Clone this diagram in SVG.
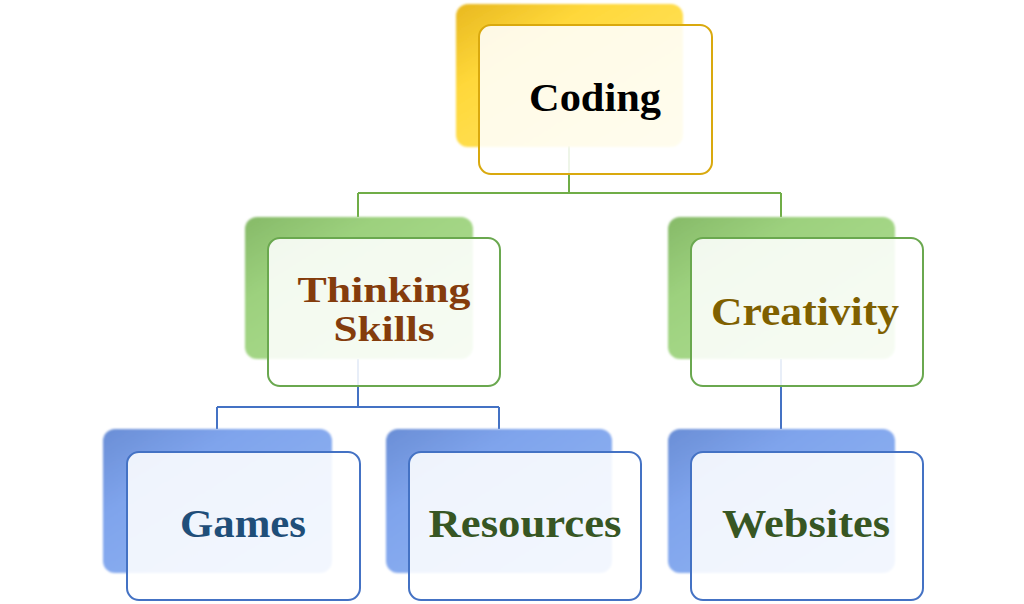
<svg xmlns="http://www.w3.org/2000/svg" width="1024" height="604" viewBox="0 0 1024 604">
<defs>
<linearGradient id="gy" x1="0" y1="0" x2="1" y2="1"><stop offset="0" stop-color="#E8B820"/><stop offset="0.3" stop-color="#FFD83A"/><stop offset="1" stop-color="#FFE870"/></linearGradient>
<linearGradient id="gg" x1="0" y1="0" x2="1" y2="1"><stop offset="0" stop-color="#86BA68"/><stop offset="0.3" stop-color="#9DD17E"/><stop offset="1" stop-color="#B2E096"/></linearGradient>
<linearGradient id="gb" x1="0" y1="0" x2="1" y2="1"><stop offset="0" stop-color="#6A8ED6"/><stop offset="0.3" stop-color="#7FA4EC"/><stop offset="1" stop-color="#94B6F4"/></linearGradient>
<filter id="soft" x="-5%" y="-5%" width="110%" height="110%"><feGaussianBlur stdDeviation="1.2"/></filter>
</defs>
<style>
.back{filter:url(#soft);}
.front{fill:#FFFFFF;fill-opacity:0.88;stroke-width:2;}
.y{stroke:#D9A90E;}
.g{stroke:#6AA84F;}
.b{stroke:#4472C4;}
text{font-family:"Liberation Serif","DejaVu Serif",serif;font-weight:bold;font-size:40px;text-anchor:middle;}
.two{font-size:36px;}
.cg{fill:none;stroke:#70AD47;stroke-width:2;}
.cb{fill:none;stroke:#4472C4;stroke-width:2;}
</style>
<g id="connectors">
<path class="cg" d="M569,146 V193 M358,193 H781 M358,193 V217 M781,193 V217"/>
<path class="cb" d="M358,359 V407 M217,407 H499 M217,407 V429 M499,407 V429 M781,359 V429"/>
</g>
<g id="coding">
<rect class="back" x="456" y="4" width="227" height="143" rx="12" fill="url(#gy)"/>
<rect class="front y" x="479" y="25" width="233" height="149" rx="12" fill="#FDF6EC"/>
<text x="595" y="111" fill="#000000" textLength="132" lengthAdjust="spacingAndGlyphs">Coding</text>
</g>
<g id="thinking">
<rect class="back" x="245" y="217" width="228" height="142" rx="12" fill="url(#gg)"/>
<rect class="front g" x="268" y="238" width="232" height="148" rx="12"/>
<text class="two" x="384" y="302" fill="#843C0C" textLength="173" lengthAdjust="spacingAndGlyphs">Thinking</text>
<text class="two" x="384" y="341" fill="#843C0C" textLength="101" lengthAdjust="spacingAndGlyphs">Skills</text>
</g>
<g id="creativity">
<rect class="back" x="668" y="217" width="227" height="142" rx="12" fill="url(#gg)"/>
<rect class="front g" x="691" y="238" width="232" height="148" rx="12"/>
<text x="805" y="325" fill="#7F6000" textLength="188" lengthAdjust="spacingAndGlyphs">Creativity</text>
</g>
<g id="games">
<rect class="back" x="103" y="429" width="229" height="144" rx="12" fill="url(#gb)"/>
<rect class="front b" x="127" y="452" width="233" height="148" rx="12"/>
<text x="243" y="537" fill="#1F4E79" textLength="126" lengthAdjust="spacingAndGlyphs">Games</text>
</g>
<g id="resources">
<rect class="back" x="386" y="429" width="226" height="144" rx="12" fill="url(#gb)"/>
<rect class="front b" x="409" y="452" width="232" height="148" rx="12"/>
<text x="525" y="537" fill="#375623" textLength="193" lengthAdjust="spacingAndGlyphs">Resources</text>
</g>
<g id="websites">
<rect class="back" x="668" y="429" width="227" height="144" rx="12" fill="url(#gb)"/>
<rect class="front b" x="691" y="452" width="232" height="148" rx="12"/>
<text x="806" y="537" fill="#375623" textLength="168" lengthAdjust="spacingAndGlyphs">Websites</text>
</g>
</svg>
